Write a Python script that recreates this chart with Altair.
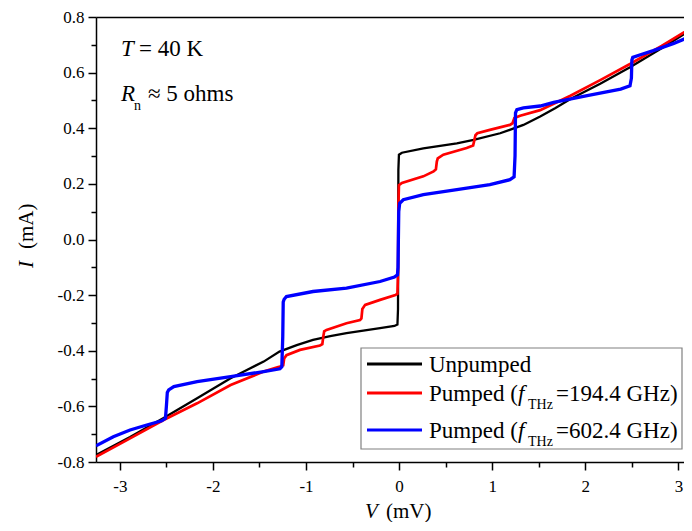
import altair as alt
import pandas as pd

# ---------------- data ----------------
# Unpumped I-V curve: (V in mV, I in mA)
unpumped_pts = [
    (-3.256, -0.775), (-2.89, -0.710), (-2.53, -0.642), (-2.17, -0.571),
    (-1.81, -0.499), (-1.63, -0.468), (-1.455, -0.439), (-1.285, -0.403),
    (-1.10, -0.380), (-0.925, -0.361), (-0.74, -0.347), (-0.565, -0.337),
    (-0.205, -0.319), (-0.05, -0.311), (-0.018, -0.306),
    (-0.012, -0.25), (-0.008, 0.25), (-0.002, 0.305), (0.03, 0.312),
    (0.26, 0.328), (0.62, 0.346), (0.80, 0.358), (1.085, 0.382),
    (1.335, 0.412), (1.515, 0.442), (1.68, 0.473), (1.84, 0.505), (2.16, 0.560),
    (2.48, 0.619), (2.82, 0.688), (3.15, 0.757),
]
# Pumped, f_THz = 194.4 GHz
pumped194_pts = [
    (-3.256, -0.781), (-2.89, -0.715), (-2.53, -0.649), (-2.17, -0.589),
    (-1.81, -0.523), (-1.455, -0.475), (-1.29, -0.458), (-1.245, -0.452),
    (-1.235, -0.428), (-1.21, -0.416), (-1.065, -0.397), (-0.85, -0.381),
    (-0.825, -0.376), (-0.815, -0.350), (-0.805, -0.330), (-0.78, -0.325),
    (-0.565, -0.301), (-0.42, -0.290), (-0.405, -0.284), (-0.395, -0.250),
    (-0.365, -0.235), (-0.205, -0.217), (-0.04, -0.200), (-0.018, -0.195),
    (-0.012, -0.12), (-0.008, 0.12), (-0.002, 0.195), (0.03, 0.203),
    (0.26, 0.227), (0.37, 0.245), (0.395, 0.252), (0.405, 0.280),
    (0.415, 0.292), (0.475, 0.305), (0.725, 0.329), (0.795, 0.338),
    (0.81, 0.360), (0.82, 0.375), (0.84, 0.382), (0.975, 0.394),
    (1.19, 0.412), (1.218, 0.418), (1.238, 0.437), (1.30, 0.445),
    (1.515, 0.465), (1.84, 0.517), (2.16, 0.573), (2.48, 0.631),
    (2.82, 0.696), (3.15, 0.763),
]
# Pumped, f_THz = 602.4 GHz
pumped602_pts = [
    (-3.256, -0.742), (-3.07, -0.709), (-2.89, -0.685), (-2.71, -0.667),
    (-2.55, -0.652), (-2.51, -0.643), (-2.50, -0.600), (-2.49, -0.550),
    (-2.475, -0.541), (-2.42, -0.529), (-2.17, -0.511), (-1.81, -0.493),
    (-1.455, -0.475), (-1.28, -0.465), (-1.26, -0.458), (-1.25, -0.350),
    (-1.245, -0.225), (-1.235, -0.215), (-1.21, -0.205), (-0.925, -0.187),
    (-0.565, -0.175), (-0.205, -0.151), (-0.05, -0.135), (-0.018, -0.127),
    (-0.012, -0.100), (-0.008, 0.0), (-0.004, 0.100), (0.006, 0.130),
    (0.045, 0.143), (0.26, 0.161), (0.62, 0.179), (0.975, 0.197),
    (1.19, 0.215), (1.235, 0.225), (1.245, 0.300), (1.25, 0.455),
    (1.265, 0.467), (1.335, 0.473), (1.515, 0.480), (1.66, 0.493),
    (2.02, 0.517), (2.38, 0.541), (2.48, 0.553), (2.495, 0.580),
    (2.50, 0.645), (2.51, 0.655), (2.60, 0.665), (2.73, 0.679),
    (2.95, 0.705), (3.15, 0.733),
]

x_major = [-3, -2, -1, 0, 1, 2, 3]
x_minor = [-2.5, -1.5, -0.5, 0.5, 1.5, 2.5]
y_major = [-0.8, -0.6, -0.4, -0.2, 0.0, 0.2, 0.4, 0.6, 0.8]
y_minor = [-0.7, -0.5, -0.3, -0.1, 0.1, 0.3, 0.5, 0.7]
x_domain = [-3.256, 3.06]
y_domain = [-0.8, 0.8]

legend_labels = ["Unpumped", "Pumped (", "Pumped ("]
legend_freqs = ["", "=194.4 GHz)", "=602.4 GHz)"]
colors = ["#000000", "#ff0000", "#0000ff"]


def to_df(pts):
    return pd.DataFrame({"V": [p[0] for p in pts], "I": [p[1] for p in pts],
                         "k": list(range(len(pts)))})


FONT = "Liberation Serif"
xs = alt.Scale(domain=x_domain, nice=False, zero=False)
ys = alt.Scale(domain=y_domain, nice=False, zero=False)
MINUS_FIX = "replace(datum.label, '\u2212', '-')"

common = dict(grid=False, title=None, domainColor="black", domainWidth=1.5,
              tickColor="black", tickWidth=1.5, labelFont=FONT,
              labelFontSize=17, labelColor="black", labelFlush=False)

black = alt.Chart(to_df(unpumped_pts)).mark_line(
    color=colors[0], strokeWidth=2.3, clip=True).encode(
    x=alt.X("V:Q", scale=xs, axis=alt.Axis(orient="bottom", values=x_major, format="d",
                                           tickSize=8, labelPadding=8,
                                           labelExpr=MINUS_FIX, **common)),
    y=alt.Y("I:Q", scale=ys, axis=alt.Axis(orient="left", values=y_major, format=".1f",
                                           tickSize=8, labelPadding=4,
                                           labelExpr=MINUS_FIX, **common)),
    order=alt.Order("k:Q"),
)

red = alt.Chart(to_df(pumped194_pts)).mark_line(
    color=colors[1], strokeWidth=2.7, clip=True).encode(
    x=alt.X("V:Q", scale=xs, axis=alt.Axis(orient="bottom", values=x_minor, labels=False,
                                           domain=False, tickSize=5, grid=False, title=None,
                                           tickColor="black", tickWidth=1.5)),
    y=alt.Y("I:Q", scale=ys, axis=alt.Axis(orient="left", values=y_minor, labels=False,
                                           domain=False, tickSize=5, grid=False, title=None,
                                           tickColor="black", tickWidth=1.5)),
    order=alt.Order("k:Q"),
)

blue = alt.Chart(to_df(pumped602_pts)).mark_line(
    color=colors[2], strokeWidth=3.3, clip=True).encode(
    x=alt.X("V:Q", scale=xs, axis=alt.Axis(orient="top", labels=False, ticks=False,
                                           grid=False, title=None, domainColor="black",
                                           domainWidth=1.5)),
    y=alt.Y("I:Q", scale=ys, axis=None),
    order=alt.Order("k:Q"),
)

one = pd.DataFrame({"a": [0]})


def txt(s, x, y, size=23, italic=False, angle=0, baseline="alphabetic", align="left"):
    kw = dict(font=FONT, fontSize=size, color="black", align=align, baseline=baseline,
              text=s)
    if italic:
        kw["fontStyle"] = "italic"
    if angle:
        kw["angle"] = angle
    return alt.Chart(one).mark_text(**kw).encode(x=alt.value(x), y=alt.value(y))


texts = [
    # axis titles
    txt("I", -69, 251, size=21, italic=True, angle=270, baseline="middle"),
    txt("(mA)", -69, 232, size=21, angle=270, baseline="middle"),
    txt("V", 269, 495, size=21, italic=True, baseline="middle"),
    txt("(mV)", 290, 495, size=21, baseline="middle"),
    # annotations
    txt("T", 25, 39, italic=True),
    txt("= 40 K", 43, 39),
    txt("R", 25, 84, italic=True),
    txt("n", 38, 93, size=14),
    txt("\u2248 5 ohms", 52, 84),
]

box = alt.Chart(one).mark_rect(fill="white", stroke="#808080", strokeWidth=1.2).encode(
    x=alt.value(265), x2=alt.value(586), y=alt.value(331), y2=alt.value(432))

row_y = [347, 376, 413]
legend_layers = [box]
for i in range(3):
    legend_layers.append(
        alt.Chart(one).mark_rule(color=colors[i], strokeWidth=3).encode(
            x=alt.value(271), x2=alt.value(326), y=alt.value(row_y[i])))
    legend_layers.append(txt(legend_labels[i], 333, row_y[i] + 1, baseline="middle"))
    if legend_freqs[i]:
        legend_layers.append(txt("f", 422, row_y[i] + 1, italic=True, baseline="middle"))
        legend_layers.append(txt("THz", 432, row_y[i] + 16, size=14))
        legend_layers.append(txt(legend_freqs[i], 460, row_y[i] + 1, baseline="middle"))

chart = alt.layer(black, red, blue, *legend_layers, *texts).resolve_axis(
    x="independent", y="independent"
).properties(
    width=588, height=445,
    autosize=alt.AutoSizeParams(type="none"),
    padding={"left": 88, "top": 9, "right": 0, "bottom": 60},
).configure_view(stroke=None)

chart.save("out.html", embed_options={"renderer": "svg", "actions": False})
